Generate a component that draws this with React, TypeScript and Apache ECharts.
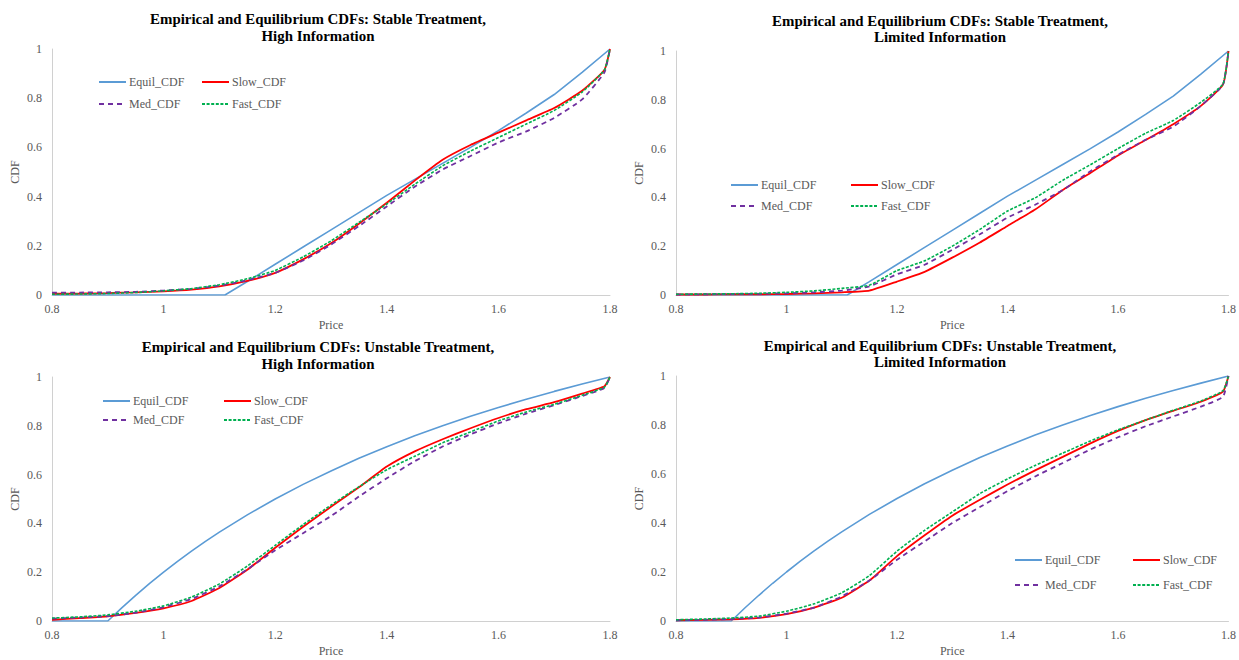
import React, { useEffect, useRef } from "react";
import * as echarts from "echarts";

// ---------- data ----------
const PRICE = [0.8, 0.85, 0.9, 0.95, 1.0, 1.05, 1.1, 1.15, 1.2, 1.25, 1.3, 1.35, 1.4, 1.45, 1.5, 1.55, 1.6, 1.65, 1.7, 1.75, 1.79, 1.8];

const EQ_STABLE_X = [0.8, 1.11, 1.15, 1.2, 1.25, 1.3, 1.35, 1.4, 1.45, 1.5, 1.55, 1.6, 1.65, 1.7, 1.75, 1.8];
const EQ_STABLE_Y = [0, 0, 0.055, 0.125, 0.195, 0.265, 0.335, 0.405, 0.47, 0.535, 0.6, 0.668, 0.74, 0.815, 0.905, 1.0];

const EQ_UNSTABLE_X = [0.8, 0.9, 0.925, 0.95, 0.975, 1.0, 1.025, 1.05, 1.075, 1.1, 1.15, 1.2, 1.25, 1.3, 1.35, 1.4, 1.45, 1.5, 1.55, 1.6, 1.65, 1.7, 1.75, 1.8];
const EQ_UNSTABLE_Y = [0, 0, 0.054, 0.105, 0.154, 0.2, 0.244, 0.286, 0.326, 0.364, 0.435, 0.5, 0.56, 0.615, 0.667, 0.714, 0.759, 0.8, 0.839, 0.875, 0.909, 0.941, 0.971, 1.0];

// Stable treatment, high information
const SH_SLOW = [0.005, 0.006, 0.008, 0.011, 0.015, 0.022, 0.035, 0.057, 0.09, 0.145, 0.21, 0.29, 0.375, 0.465, 0.55, 0.61, 0.66, 0.71, 0.76, 0.83, 0.915, 1.0];
const SH_MED = [0.01, 0.01, 0.011, 0.013, 0.018, 0.025, 0.038, 0.06, 0.09, 0.14, 0.205, 0.28, 0.36, 0.44, 0.51, 0.565, 0.62, 0.665, 0.72, 0.795, 0.905, 1.0];
const SH_FAST = [0.003, 0.004, 0.006, 0.01, 0.017, 0.026, 0.042, 0.066, 0.1, 0.155, 0.22, 0.295, 0.37, 0.45, 0.525, 0.585, 0.64, 0.695, 0.75, 0.825, 0.915, 1.0];

// Stable treatment, limited information
const SL_SLOW = [0.002, 0.002, 0.003, 0.003, 0.004, 0.007, 0.011, 0.018, 0.055, 0.095, 0.153, 0.215, 0.283, 0.35, 0.43, 0.5, 0.572, 0.635, 0.7, 0.775, 0.862, 1.0];
const SL_MED = [0.002, 0.003, 0.004, 0.005, 0.007, 0.011, 0.018, 0.035, 0.085, 0.124, 0.185, 0.249, 0.317, 0.37, 0.43, 0.507, 0.575, 0.636, 0.69, 0.775, 0.862, 1.0];
const SL_FAST = [0.003, 0.004, 0.005, 0.007, 0.011, 0.017, 0.027, 0.04, 0.1, 0.14, 0.2, 0.269, 0.344, 0.398, 0.47, 0.534, 0.6, 0.663, 0.715, 0.79, 0.865, 1.0];

// Unstable treatment, high information
const UH_SLOW = [0.005, 0.012, 0.019, 0.033, 0.052, 0.082, 0.135, 0.21, 0.3, 0.386, 0.468, 0.548, 0.633, 0.695, 0.745, 0.79, 0.832, 0.868, 0.897, 0.932, 0.962, 1.0];
const UH_MED = [0.01, 0.014, 0.02, 0.034, 0.057, 0.09, 0.142, 0.212, 0.29, 0.36, 0.43, 0.51, 0.585, 0.655, 0.715, 0.765, 0.81, 0.85, 0.885, 0.922, 0.955, 1.0];
const UH_FAST = [0.012, 0.017, 0.025, 0.04, 0.062, 0.098, 0.152, 0.225, 0.31, 0.395, 0.475, 0.55, 0.62, 0.675, 0.73, 0.775, 0.82, 0.857, 0.888, 0.925, 0.958, 1.0];

// Unstable treatment, limited information
const UL_SLOW = [0.003, 0.005, 0.007, 0.013, 0.028, 0.055, 0.095, 0.165, 0.265, 0.35, 0.43, 0.495, 0.557, 0.615, 0.67, 0.725, 0.776, 0.82, 0.858, 0.895, 0.936, 1.0];
const UL_MED = [0.003, 0.005, 0.008, 0.014, 0.03, 0.055, 0.1, 0.165, 0.25, 0.325, 0.4, 0.465, 0.53, 0.59, 0.645, 0.7, 0.75, 0.795, 0.835, 0.875, 0.915, 1.0];
const UL_FAST = [0.005, 0.008, 0.012, 0.02, 0.04, 0.07, 0.115, 0.185, 0.285, 0.37, 0.445, 0.52, 0.58, 0.635, 0.685, 0.735, 0.78, 0.82, 0.86, 0.898, 0.94, 1.0];

const SERIES_NAMES = ["Equil_CDF", "Slow_CDF", "Med_CDF", "Fast_CDF"];
const TITLE_LINE1 = [
  "Empirical and Equilibrium CDFs: Stable Treatment,",
  "Empirical and Equilibrium CDFs: Stable Treatment,",
  "Empirical and Equilibrium CDFs: Unstable Treatment,",
  "Empirical and Equilibrium CDFs: Unstable Treatment,",
];
const TITLE_LINE2 = ["High Information", "Limited Information", "High Information", "Limited Information"];
const X_NAME = "Price";
const Y_NAME = "CDF";

// ---------- layout / style ----------
const FONT = "'Liberation Serif', 'Times New Roman', serif";
const GREY = "#595959";
const W = 1239;
const H = 660;

const PANELS = [
  { grid: { l: 52, r: 610, t: 49, b: 295 }, titleX: 318, titleY: [19, 36], legend: { c1: 98, c2: 201, top: 76, gap: 10 }, eqX: EQ_STABLE_X, eqY: EQ_STABLE_Y, slow: SH_SLOW, med: SH_MED, fast: SH_FAST },
  { grid: { l: 676, r: 1232, t: 51, b: 295 }, titleX: 940, titleY: [20.5, 37], legend: { c1: 730, c2: 850, top: 179, gap: 9 }, eqX: EQ_STABLE_X, eqY: EQ_STABLE_Y, slow: SL_SLOW, med: SL_MED, fast: SL_FAST },
  { grid: { l: 52, r: 610, t: 377, b: 621 }, titleX: 318, titleY: [347, 364], legend: { c1: 102, c2: 223, top: 395, gap: 7 }, eqX: EQ_UNSTABLE_X, eqY: EQ_UNSTABLE_Y, slow: UH_SLOW, med: UH_MED, fast: UH_FAST },
  { grid: { l: 676, r: 1232, t: 376, b: 621 }, titleX: 940, titleY: [345.5, 362], legend: { c1: 1014, c2: 1132, top: 554, gap: 13 }, eqX: EQ_UNSTABLE_X, eqY: EQ_UNSTABLE_Y, slow: UL_SLOW, med: UL_MED, fast: UL_FAST },
];

const STYLES = [
  { color: "#5B9BD5", width: 1.6, type: "solid" as any, smooth: false as any },
  { color: "#FF0000", width: 1.8, type: "solid" as any, smooth: 0.15 },
  { color: "#7030A0", width: 1.8, type: [5, 4] as any, smooth: 0.15 },
  { color: "#00B050", width: 1.6, type: [3, 1.6] as any, smooth: 0.15 },
];

function buildOption() {
  const grid: any[] = [];
  const xAxis: any[] = [];
  const yAxis: any[] = [];
  const series: any[] = [];
  const legend: any[] = [];
  const graphic: any[] = [];

  PANELS.forEach((p, i) => {
    grid.push({ left: p.grid.l, top: p.grid.t, width: p.grid.r - p.grid.l, height: p.grid.b - p.grid.t, containLabel: false });
    xAxis.push({
      type: "value", gridIndex: i, min: 0.8, max: 1.8, interval: 0.2,
      name: X_NAME, nameLocation: "middle", nameGap: 24,
      nameTextStyle: { fontFamily: FONT, fontSize: 12, color: GREY },
      axisLine: { show: true, onZero: false, lineStyle: { color: "#D0D0D0", width: 1 } },
      axisTick: { show: false },
      splitLine: { show: false },
      axisLabel: { fontFamily: FONT, fontSize: 12, color: GREY, margin: 8 },
    });
    yAxis.push({
      type: "value", gridIndex: i, min: 0, max: 1, interval: 0.2,
      name: Y_NAME, nameLocation: "middle", nameGap: 31,
      nameTextStyle: { fontFamily: FONT, fontSize: 12, color: GREY },
      axisLine: { show: true, lineStyle: { color: "#D0D0D0", width: 1 } },
      axisTick: { show: false },
      splitLine: { show: false },
      axisLabel: { fontFamily: FONT, fontSize: 12, color: GREY, margin: 10 },
    });

    const empirical = [p.slow, p.med, p.fast];
    SERIES_NAMES.forEach((name, k) => {
      const data = k === 0
        ? p.eqX.map((x, j) => [x, p.eqY[j]])
        : PRICE.map((x, j) => [x, empirical[k - 1][j]]);
      series.push({
        type: "line", name, xAxisIndex: i, yAxisIndex: i, data,
        symbol: "none", showSymbol: false,
        smooth: STYLES[k].smooth,
        lineStyle: { color: STYLES[k].color, width: STYLES[k].width, type: STYLES[k].type },
        itemStyle: { color: STYLES[k].color },
        emphasis: { disabled: true },
        z: 2 + k,
      });
    });

    const lg = (names: string[], left: number) => ({
      data: names, orient: "vertical", left, top: p.legend.top,
      itemWidth: 27, itemHeight: 12, itemGap: p.legend.gap, padding: 0,
      selectedMode: false,
      itemStyle: { opacity: 0 },
      textStyle: { fontFamily: FONT, fontSize: 12, color: GREY, padding: [0, 0, 0, -2] },
    });
    legend.push(lg([SERIES_NAMES[0], SERIES_NAMES[2]], p.legend.c1));
    legend.push(lg([SERIES_NAMES[1], SERIES_NAMES[3]], p.legend.c2));

    [TITLE_LINE1[i], TITLE_LINE2[i]].forEach((t, j) => {
      graphic.push({
        type: "text", x: p.titleX, y: p.titleY[j],
        style: {
          text: t, fill: "#000", font: `bold 14.9px ${FONT}`,
          textAlign: "center", textVerticalAlign: "middle",
          align: "center", verticalAlign: "middle",
        },
      });
    });
  });

  return {
    animation: false,
    backgroundColor: "#fff",
    grid, xAxis, yAxis, series, legend, graphic,
    tooltip: { show: false },
  };
}

export default function App() {
  const ref = useRef<HTMLDivElement>(null);
  useEffect(() => {
    if (!ref.current) return;
    const chart = echarts.init(ref.current, null, { renderer: "svg" });
    chart.setOption(buildOption() as any);
    return () => chart.dispose();
  }, []);
  return <div ref={ref} style={{ position: "absolute", left: 0, top: 0, width: W, height: H }} />;
}
